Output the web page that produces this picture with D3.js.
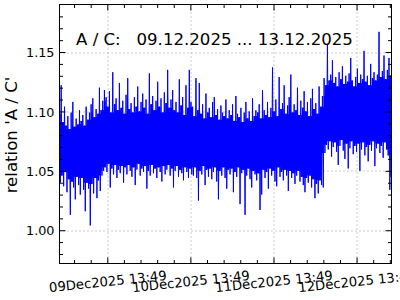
<!DOCTYPE html>
<html>
<head>
<meta charset="utf-8">
<script src="https://cdnjs.cloudflare.com/ajax/libs/d3/7.8.5/d3.min.js"></script>
<style>
	body { margin: 0; background: #fff; }
	svg { display: block; }
	text { font-family: "DejaVu Sans", sans-serif; }
</style>
</head>
<body>
<div id="vis"></div>
<script>
const width = 400;
const height = 300;

// time span of the record
const startTime = "2025-12-09T00:01:00Z";
const endTime = "2025-12-12T23:54:00Z";

// upper / lower excursion of A/C per time slot
const hi = [
	1.098,1.122,1.091,1.104,1.088,1.096,1.085,1.099,1.108,1.087,1.094,1.089,1.101,1.092,1.097,1.088,1.104,1.093,1.099,1.106,
	1.111,1.095,1.102,1.098,1.120,1.101,1.109,1.118,
	1.112,1.104,1.117,1.099,1.133,1.106,1.111,1.101,1.124,1.103,1.109,1.098,1.114,1.128,1.102,1.107,1.099,1.112,1.104,1.121,
	1.100,1.108,1.115,1.103,1.110,1.098,1.132,1.106,1.113,1.101,1.109,1.125,1.104,1.111,1.099,1.116,1.107,1.135,1.103,1.110,
	1.118,1.101,1.108,1.099,1.127,1.105,1.112,1.097,1.122,1.103,1.135,1.108,
	1.104,1.096,1.128,1.101,1.124,1.098,1.106,1.094,1.115,1.099,1.103,1.095,1.108,1.112,1.097,1.102,1.093,1.105,1.099,1.096,
	1.110,1.094,1.101,1.097,1.106,1.092,1.113,1.098,1.095,1.103,1.091,1.099,1.108,1.094,1.100,1.092,1.111,1.096,1.101,
	1.099,1.106,1.094,1.118,1.101,1.097,1.108,1.095,1.103,1.137,1.100,1.110,1.096,1.129,1.102,1.107,1.122,1.098,1.105,1.112,
	1.131,1.099,1.106,1.101,1.120,1.097,1.109,1.103,1.117,1.100,1.108,1.096,1.111,1.119,1.102,1.107,1.098,1.121,1.104,1.113,
	1.128,1.122,1.156,1.126,1.131,1.143,1.124,1.129,1.121,1.133,1.127,1.138,1.123,1.130,1.125,1.132,1.145,1.126,1.121,1.129,
	1.136,1.124,1.131,1.127,1.151,1.125,1.130,1.122,1.140,1.128,1.133,1.126,1.131,1.167,1.129,1.134,1.147,1.127,1.135,1.145,
	1.130
];
const lo = [
	1.040,1.046,1.037,1.049,1.032,1.043,1.013,1.041,1.036,1.026,1.045,1.038,1.030,1.044,1.034,1.016,1.040,1.035,1.004,1.039,
	1.031,1.044,1.027,1.042,1.033,1.046,1.050,1.053,
	1.049,1.056,1.036,1.052,1.047,1.055,1.044,1.051,1.048,1.054,1.040,1.053,1.047,1.055,1.050,1.045,1.053,1.038,1.051,1.056,
	1.046,1.052,1.049,1.054,1.035,1.050,1.046,1.055,1.048,1.052,1.044,1.053,1.049,1.041,1.054,1.047,1.051,1.055,1.046,1.052,
	1.036,1.050,1.054,1.045,1.051,1.048,1.042,1.053,1.049,1.044,1.052,1.047,
	1.046,1.053,1.044,1.025,1.050,1.047,1.054,1.038,1.051,1.045,1.052,1.043,1.049,1.053,1.041,1.026,1.050,1.046,1.053,1.044,
	1.035,1.051,1.047,1.052,1.032,1.049,1.045,1.053,1.022,1.048,1.051,1.013,1.046,1.052,1.043,1.036,1.050,1.047,1.042,
	1.048,1.017,1.030,1.051,1.044,1.049,1.035,1.052,1.046,1.050,1.041,1.037,1.053,1.045,1.049,1.042,1.051,1.046,1.033,1.050,
	1.044,1.048,1.039,1.046,1.050,1.041,1.045,1.038,1.032,1.044,1.040,1.046,1.036,1.043,1.027,1.039,1.031,1.042,1.038,1.036,
	1.065,1.072,1.068,1.075,1.062,1.070,1.074,1.066,1.055,1.071,1.076,1.067,1.060,1.073,1.052,1.069,1.075,1.064,1.071,1.066,
	1.073,1.050,1.068,1.074,1.063,1.070,1.058,1.072,1.067,1.075,1.054,1.069,1.073,1.065,1.071,1.061,1.074,1.068,1.063,1.034,
	1.045
];

const yTicks = [1.00, 1.05, 1.10, 1.15];
const yTickLabels = ["1.00", "1.05", "1.10", "1.15"];
const xTicks = ["2025-12-09T13:49:00Z", "2025-12-10T13:49:00Z", "2025-12-11T13:49:00Z", "2025-12-12T13:48:40Z"];
const xTickLabels = ["09Dec2025 13:49", "10Dec2025 13:49", "11Dec2025 13:49", "12Dec2025 13:48"];
const title = "A / C:   09.12.2025 ... 13.12.2025";
const yLabel = "relation 'A / C'";

const margin = {top: 4.5, right: 8.5, bottom: 36.5, left: 59.5};
const w = width - margin.left - margin.right;
const h = height - margin.top - margin.bottom;

const t0 = d3.isoParse(startTime);
const t1 = d3.isoParse(endTime);

// interleave the two excursions into one sampled trace
const n = hi.length * 2;
const timeAt = k => new Date(+t0 + k * (t1 - t0) / (n - 1));
const series = d3.range(n).map(k => ({
	t: timeAt(k),
	v: k % 2 === 0 ? hi[k / 2] : lo[(k - 1) / 2]
}));

// dense core: the part every neighbouring swing passes through
const core = hi.map((d, i) => {
	const a = Math.max(0, i - 1), b = Math.min(hi.length, i + 2);
	return {
		t: timeAt(2 * i + 0.5),
		top: d3.min(hi.slice(a, b)),
		bot: d3.max(lo.slice(a, b))
	};
});

const x = d3.scaleUtc()
	.domain([t0, t1])
	.range([0, w]);

const y = d3.scaleLinear()
	.domain([0.972, 1.19])
	.range([h, 0]);

const majorX = xTicks.map(d3.isoParse);
const minorX = d3.range(-3, 20)
	.map(k => new Date(+majorX[0] + k * 4.8 * 3600e3))
	.filter(d => d > t0 && d < t1 && !majorX.some(m => Math.abs(m - d) < 6e4));
const minorY = d3.range(98, 119).map(k => k / 100).filter(v => !yTicks.some(t => Math.abs(t - v) < 1e-6));

const svg = d3.select("#vis")
	.append("svg")
		.attr("width", width)
		.attr("height", height)
	.append("g")
		.attr("transform", `translate(${margin.left}, ${margin.top})`);

svg.append("defs")
	.append("clipPath")
		.attr("id", "clip")
	.append("rect")
		.attr("width", w)
		.attr("height", h);

// grid
const grid = svg.append("g")
	.attr("stroke", "#808080")
	.attr("stroke-width", 0.8)
	.attr("stroke-dasharray", "1,3");

grid.selectAll("line.gx")
	.data(majorX)
	.enter()
	.append("line")
		.attr("x1", d => Math.round(x(d)) + 0.5)
		.attr("x2", d => Math.round(x(d)) + 0.5)
		.attr("y1", 0)
		.attr("y2", h);

grid.selectAll("line.gy")
	.data(yTicks)
	.enter()
	.append("line")
		.attr("x1", 0)
		.attr("x2", w)
		.attr("y1", d => Math.round(y(d)) + 0.5)
		.attr("y2", d => Math.round(y(d)) + 0.5);

// the trace
const plot = svg.append("g")
	.attr("clip-path", "url(#clip)");

plot.append("path")
	.datum(core)
	.attr("fill", "#0000ff")
	.attr("d", d3.area()
		.curve(d3.curveStep)
		.x(d => x(d.t))
		.y0(d => y(d.bot))
		.y1(d => y(d.top)));

plot.append("path")
	.datum(series)
	.attr("fill", "none")
	.attr("stroke", "#0000ff")
	.attr("stroke-width", 1)
	.attr("d", d3.line()
		.x(d => x(d.t))
		.y(d => y(d.v)));

// ticks, pointing inwards on all four sides
const tickLayer = (axis, transform) => {
	const g = svg.append("g")
		.attr("transform", transform)
		.call(axis);
	g.select(".domain").remove();
	g.selectAll("line").attr("stroke", "#000");
	return g;
};

tickLayer(d3.axisBottom(x).tickValues(minorX).tickSize(-3.5).tickFormat(""), `translate(0, ${h})`);
tickLayer(d3.axisTop(x).tickValues(minorX).tickSize(-3.5).tickFormat(""), "translate(0, 0)");
tickLayer(d3.axisTop(x).tickValues(majorX).tickSize(-6).tickFormat(""), "translate(0, 0)");
tickLayer(d3.axisLeft(y).tickValues(minorY).tickSize(-3.5).tickFormat(""), "translate(0, 0)");
tickLayer(d3.axisRight(y).tickValues(minorY).tickSize(-3.5).tickFormat(""), `translate(${w}, 0)`);
tickLayer(d3.axisRight(y).tickValues(yTicks).tickSize(-6).tickFormat(""), `translate(${w}, 0)`);

const xAxis = tickLayer(d3.axisBottom(x)
	.tickValues(majorX)
	.tickSize(-6)
	.tickFormat((d, i) => xTickLabels[i]), `translate(0, ${h})`);

xAxis.selectAll("text")
	.attr("font-family", "DejaVu Sans")
	.attr("font-size", 13.2)
	.attr("fill", "#000")
	.attr("y", 0)
	.attr("dy", 0)
	.attr("transform", "translate(0.5, 22.5) rotate(-6)");

const yAxis = tickLayer(d3.axisLeft(y)
	.tickValues(yTicks)
	.tickSize(-6)
	.tickPadding(5)
	.tickFormat((d, i) => yTickLabels[i]), "translate(0, 0)");

yAxis.selectAll("text")
	.attr("font-family", "DejaVu Sans")
	.attr("font-size", 12.8)
	.attr("fill", "#000")
	.attr("dy", "0.36em");

// frame
svg.append("rect")
	.attr("width", w)
	.attr("height", h)
	.attr("fill", "none")
	.attr("stroke", "#000")
	.attr("stroke-width", 1);

// annotation inside the axes
svg.append("text")
	.attr("x", 76 - margin.left)
	.attr("y", 44.5 - margin.top)
	.attr("font-size", 16.6)
	.style("white-space", "pre")
	.text(title);

svg.append("text")
	.attr("transform", `translate(${17 - margin.left}, ${135 - margin.top}) rotate(-90)`)
	.attr("text-anchor", "middle")
	.attr("font-size", 16.6)
	.text(yLabel);
</script>
</body>
</html>
